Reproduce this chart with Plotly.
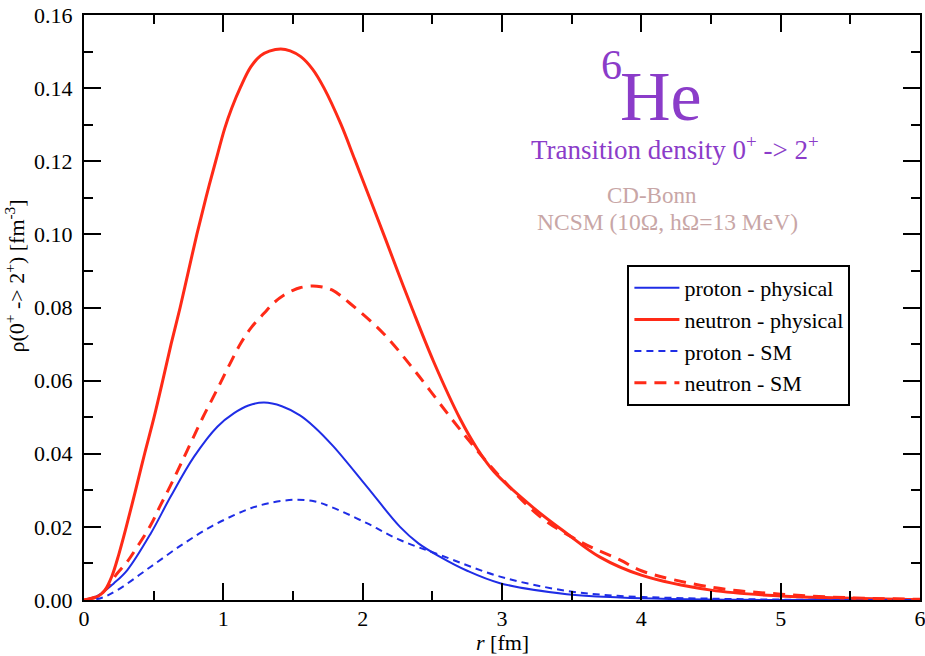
import plotly.graph_objects as go

# ---------------- data ----------------
r_np = [0, 0.1, 0.15, 0.2, 0.25, 0.3, 0.37, 0.435, 0.503, 0.565, 0.625, 0.69, 0.75,
        0.81, 0.875, 0.945, 1.01, 1.06, 1.125, 1.197, 1.268, 1.33, 1.412, 1.48,
        1.556, 1.64, 1.723, 1.843, 1.943, 2.06, 2.166, 2.26, 2.35, 2.508, 2.70,
        2.82, 2.94, 3.226, 3.465, 3.70, 4.0, 4.5, 5.0, 5.5, 6.0]
y_np = [0, 0.001, 0.0027, 0.0065, 0.0125, 0.0195, 0.030, 0.040, 0.050, 0.060, 0.070,
        0.080, 0.090, 0.100, 0.110, 0.120, 0.129, 0.1345, 0.1404, 0.1458, 0.1489,
        0.1501, 0.1507, 0.1502, 0.1486, 0.1452, 0.140, 0.1302, 0.1205, 0.1090,
        0.0985, 0.0890, 0.0802, 0.0653, 0.0495, 0.0415, 0.0352, 0.0252, 0.0182,
        0.0118, 0.0068, 0.0027, 0.0011, 0.0005, 0.0001]

r_nsm = [0, 0.12, 0.239, 0.311, 0.383, 0.479, 0.55, 0.617, 0.68, 0.742, 0.85, 0.921,
         0.981, 1.05, 1.125, 1.20, 1.292, 1.36, 1.436, 1.50, 1.55, 1.63, 1.70, 1.78,
         1.91, 2.149, 2.388, 2.627, 2.819, 2.986, 3.273, 3.584, 3.85, 4.0, 4.5, 5.0,
         5.5, 6.0]
y_nsm = [0, 0.0015, 0.0073, 0.0105, 0.0146, 0.0205, 0.026, 0.031, 0.036, 0.041,
         0.0497, 0.055, 0.0595, 0.0648, 0.0702, 0.0745, 0.0784, 0.0812, 0.0834,
         0.0847, 0.0854, 0.0859, 0.0857, 0.0848, 0.0811, 0.0729, 0.062, 0.0501,
         0.041, 0.0337, 0.0228, 0.0155, 0.0109, 0.008, 0.0035, 0.0016, 0.0006, 0.0002]

r_pp = [0, 0.1, 0.215, 0.311, 0.479, 0.622, 0.79, 0.957, 1.077, 1.18, 1.292, 1.42,
        1.55, 1.651, 1.79, 2.03, 2.268, 2.40, 2.556, 2.75, 2.986, 3.465, 3.85, 4.2,
        4.6, 5.0, 6.0]
y_pp = [0, 0.0012, 0.0046, 0.0082, 0.0182, 0.0283, 0.0392, 0.0474, 0.0511, 0.0532,
        0.054, 0.0530, 0.0505, 0.0474, 0.0420, 0.031, 0.020, 0.0155, 0.0118, 0.0080,
        0.0046, 0.0016, 0.0007, 0.0003, 0.0001, 0.0, 0.0]

r_psm = [0, 0.12, 0.239, 0.479, 0.718, 0.909, 1.077, 1.197, 1.33, 1.5, 1.651, 1.79,
         2.03, 2.268, 2.556, 2.986, 3.465, 3.85, 4.2, 4.6, 5.0, 5.5, 6.0]
y_psm = [0, 0.0005, 0.0027, 0.0091, 0.0155, 0.020, 0.0232, 0.0251, 0.0265, 0.0274,
         0.0270, 0.0252, 0.021, 0.0164, 0.0123, 0.0064, 0.0025, 0.0011, 0.0006,
         0.0003, 0.0001, 0.0, 0.0]

series_names = ["proton - physical", "neutron - physical", "proton - SM", "neutron - SM"]
x_ticks = [0, 1, 2, 3, 4, 5, 6]
y_ticks = [0.00, 0.02, 0.04, 0.06, 0.08, 0.10, 0.12, 0.14, 0.16]

RED = "#ff2a17"
BLUE = "#1f2de6"
PURPLE = "#8b3cc9"
PINK = "#c8a6a6"
FONT = "Liberation Serif"

fig = go.Figure()
fig.add_trace(go.Scatter(x=r_pp, y=y_pp, name=series_names[0], mode="lines",
                         line=dict(color=BLUE, width=2, shape="spline", smoothing=1.0)))
fig.add_trace(go.Scatter(x=r_np, y=y_np, name=series_names[1], mode="lines",
                         line=dict(color=RED, width=3, shape="spline", smoothing=1.0)))
fig.add_trace(go.Scatter(x=r_psm, y=y_psm, name=series_names[2], mode="lines",
                         line=dict(color=BLUE, width=2, dash="7px,5px", shape="spline", smoothing=1.0)))
fig.add_trace(go.Scatter(x=r_nsm, y=y_nsm, name=series_names[3], mode="lines",
                         line=dict(color=RED, width=3, dash="12px,8px", shape="spline", smoothing=1.0)))

axis_common = dict(
    showline=True, linecolor="black", linewidth=2, mirror="allticks",
    ticks="inside", ticklen=17, tickwidth=2, tickcolor="black",
    showgrid=False, zeroline=False, automargin=False,
    ticklabeloverflow="allow",
    tickfont=dict(family=FONT, size=22, color="black"),
)

fig.update_xaxes(range=[0, 6], tickvals=x_ticks, ticktext=[str(v) for v in x_ticks],
                 minor=dict(ticks="inside", ticklen=9, tickwidth=2, tickcolor="black", dtick=0.5),
                 ticklabelstandoff=-2,
                 **axis_common)
fig.update_yaxes(range=[0, 0.16], tickvals=y_ticks, ticktext=[f"{v:.2f}" for v in y_ticks],
                 minor=dict(ticks="inside", ticklen=9, tickwidth=2, tickcolor="black", dtick=0.01),
                 ticklabelstandoff=5,
                 **axis_common)

ann = [
    dict(text="6", x=0.6304, y=0.9145, yanchor="middle", font=dict(size=42, color=PURPLE)),
    dict(text="He", x=0.6902, y=0.860, yanchor="middle", font=dict(size=70, color=PURPLE)),
    dict(text="Transition density 0<sup>+</sup> -> 2<sup>+</sup>", x=0.7069, y=0.773,
         yanchor="middle", font=dict(size=27, color=PURPLE)),
    dict(text="CD-Bonn", x=0.6794, y=0.6923, yanchor="middle", font=dict(size=23, color=PINK)),
    dict(text="NCSM (10\u03a9, h\u03a9=13 MeV)", x=0.698, y=0.6462, yanchor="middle",
         font=dict(size=23.5, color=PINK)),
    dict(text="\u03c1(0<sup>+</sup> -> 2<sup>+</sup>) [fm<sup>-3</sup>]", x=-0.0825, y=0.553,
         yanchor="middle", textangle=-90, font=dict(size=22, color="black")),
    dict(text="<i>r</i> [fm]", x=0.5, y=-0.0955, yanchor="bottom", borderpad=0,
         font=dict(size=22, color="black")),
]
for a in ann:
    a["font"]["family"] = FONT
    fig.add_annotation(xref="paper", yref="paper", showarrow=False,
                       xanchor="center", **a)

fig.update_layout(
    width=925, height=656,
    margin=dict(l=84, r=5, t=15, b=56),
    paper_bgcolor="white", plot_bgcolor="white",
    font=dict(family=FONT, size=22, color="black"),
    legend=dict(x=0.65, y=0.5726, xanchor="left", yanchor="top",
                bgcolor="white", bordercolor="black", borderwidth=2,
                font=dict(family=FONT, size=22, color="black"),
                itemwidth=45, tracegroupgap=0),
    showlegend=True,
)

fig.write_html("out.html")
